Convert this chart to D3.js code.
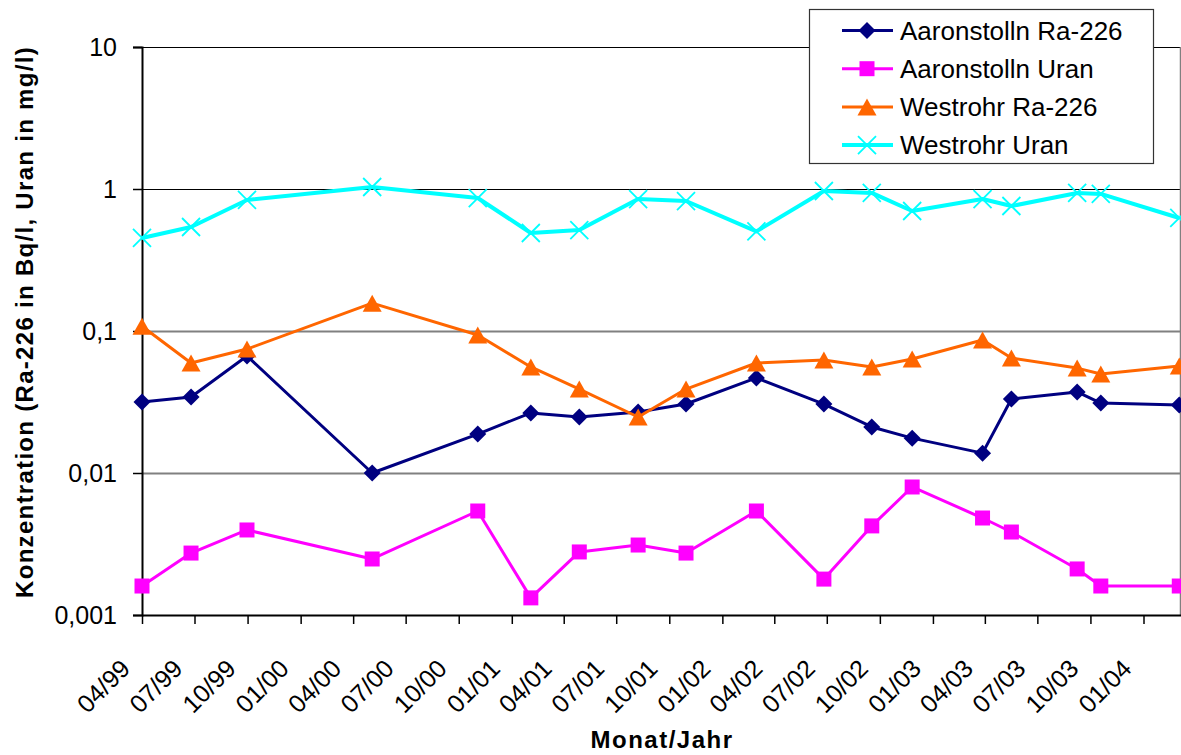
<!DOCTYPE html>
<html>
<head>
<meta charset="utf-8">
<script src="https://cdn.jsdelivr.net/npm/d3@7"></script>
<style>
  html, body { margin: 0; padding: 0; background: #fff; }
  svg { display: block; }
  text { font-family: Arial, "Liberation Sans", sans-serif; fill: #000; }
</style>
</head>
<body>
<svg id="chart" width="1181" height="755"></svg>
<script>
// ---------------- data ----------------
const sampleDates = [
  "1999-04-01", "1999-06-25", "1999-09-30", "2000-05-04", "2000-11-03", "2001-02-03",
  "2001-04-28", "2001-08-08", "2001-10-30", "2002-03-01", "2002-06-26", "2002-09-17",
  "2002-11-26", "2003-03-28", "2003-05-17", "2003-09-08", "2003-10-19", "2004-03-03"
];
const seriesNames = ["Aaronstolln Ra-226", "Aaronstolln Uran", "Westrohr Ra-226", "Westrohr Uran"];
const aaronRa = [0.0316, 0.0343, 0.0667, 0.0100, 0.0188, 0.0265, 0.0248, 0.0269, 0.0306, 0.0467,
                 0.0306, 0.0211, 0.0176, 0.0138, 0.0332, 0.0372, 0.0311, 0.0301];
const aaronU  = [0.00160, 0.00273, 0.00397, 0.00248, 0.00540, 0.00132, 0.00278, 0.00311, 0.00273,
                 0.00540, 0.00179, 0.00424, 0.00797, 0.00482, 0.00384, 0.00211, 0.00160, 0.00160];
const westRa  = [0.108, 0.0595, 0.0746, 0.157, 0.0938, 0.0558, 0.0390, 0.0248, 0.0390, 0.0595,
                 0.0625, 0.0558, 0.0635, 0.0864, 0.0646, 0.0548, 0.0498, 0.0567];
const westU   = [0.452, 0.540, 0.837, 1.033, 0.864, 0.490, 0.514, 0.850, 0.823, 0.503,
                 0.968, 0.938, 0.700, 0.850, 0.759, 0.938, 0.923, 0.625];
const yTickValues = [10, 1, 0.1, 0.01, 0.001];
const yTickLabels = ["10", "1", "0,1", "0,01", "0,001"];
const xStart = "1999-04-01";
const xEnd = "2004-03-06";
const xTitle = "Monat/Jahr";
const yTitle = "Konzentration (Ra-226 in Bq/l, Uran in mg/l)";

// ---------------- setup ----------------
const parse = d3.timeParse("%Y-%m-%d");
const dates = sampleDates.map(parse);
const svg = d3.select("#chart");

const L = 142, R = 1181, T = 47, B = 615;
const x = d3.scaleTime().domain([parse(xStart), parse(xEnd)]).range([L, R]);
const y = d3.scaleLog().domain([0.001, 10]).range([B, T]);

// gridlines
svg.append("g").selectAll("line")
  .data(yTickValues.filter(v => v > 0.001))
  .join("line")
  .attr("x1", L).attr("x2", R)
  .attr("y1", d => Math.round(y(d)) + 0.5).attr("y2", d => Math.round(y(d)) + 0.5)
  .attr("stroke", d => d >= 1 ? "#000" : "#808080")
  .attr("stroke-width", d => d >= 1 ? 1 : 2);

// right border of plot area
svg.append("line").attr("x1", R - 0.5).attr("x2", R - 0.5).attr("y1", T).attr("y2", B)
  .attr("stroke", "#808080").attr("stroke-width", 1.5);

// y axis
const yAxis = svg.append("g").attr("transform", `translate(${L},0)`)
  .call(d3.axisLeft(y).tickValues(yTickValues)
    .tickFormat((d, i) => yTickLabels[i]).tickSize(9).tickPadding(16));
yAxis.select(".domain").attr("stroke", "#000").attr("stroke-width", 2);
yAxis.selectAll(".tick line").attr("stroke", "#000").attr("stroke-width", 1.5);
yAxis.selectAll(".tick text").attr("font-size", 25)
  .style("font-family", "Arial, 'Liberation Sans', sans-serif").attr("fill", "#000");

// x axis
const xTicks = d3.timeMonth.every(3).range(parse("1999-04-01"), parse("2004-02-01"));
const xAxis = svg.append("g").attr("transform", `translate(0,${B})`)
  .call(d3.axisBottom(x).tickValues(xTicks).tickFormat(d3.timeFormat("%m/%y")).tickSize(9).tickSizeOuter(0));
xAxis.select(".domain").attr("stroke", "#000").attr("stroke-width", 2);
xAxis.selectAll(".tick line").attr("stroke", "#000").attr("stroke-width", 1.5);
xAxis.selectAll(".tick text")
  .attr("font-size", 25)
  .style("font-family", "Arial, 'Liberation Sans', sans-serif").attr("fill", "#000")
  .attr("x", 0).attr("y", 0).attr("dy", "0.35em")
  .attr("text-anchor", "end")
  .attr("transform", "translate(-17,49) rotate(-45)");

// axis titles
svg.append("text").attr("x", 662).attr("y", 748)
  .attr("text-anchor", "middle").attr("font-size", 24).attr("font-weight", "bold")
  .attr("letter-spacing", 1.5).text(xTitle);
svg.append("text").attr("transform", "translate(33,322) rotate(-90)")
  .attr("text-anchor", "middle").attr("font-size", 24).attr("font-weight", "bold")
  .attr("letter-spacing", 1.3).text(yTitle);

// ---------------- series ----------------
const markers = {
  diamond: "M0,-8.5L8.5,0L0,8.5L-8.5,0Z",
  square: "M-7.5,-7.5H7.5V7.5H-7.5Z",
  triangle: "M0,-8.5L9.5,8.5L-9.5,8.5Z",
  cross: "M-9,-9L9,9M9,-9L-9,9"
};
const series = [
  { name: seriesNames[0], values: aaronRa, color: "#000080", width: 3, marker: "diamond" },
  { name: seriesNames[1], values: aaronU, color: "#FF00FF", width: 3, marker: "square" },
  { name: seriesNames[2], values: westRa, color: "#FF6600", width: 3, marker: "triangle" },
  { name: seriesNames[3], values: westU, color: "#00FFFF", width: 4, marker: "cross" }
];

function drawMarker(g, s) {
  const p = g.append("path").attr("d", markers[s.marker]);
  if (s.marker === "cross") p.attr("fill", "none").attr("stroke", s.color).attr("stroke-width", 1.8);
  else p.attr("fill", s.color).attr("stroke", "none");
}

const line = d3.line().x(d => x(d.date)).y(d => y(d.v));
series.forEach(s => {
  const pts = s.values.map((v, i) => ({ date: dates[i], v }));
  const g = svg.append("g");
  g.append("path").datum(pts).attr("d", line)
    .attr("fill", "none").attr("stroke", s.color).attr("stroke-width", s.width)
    .attr("stroke-linejoin", "round");
  g.selectAll("g.m").data(pts).join("g").attr("class", "m")
    .attr("transform", d => `translate(${x(d.date)},${y(d.v)})`)
    .each(function () { drawMarker(d3.select(this), s); });
});

// ---------------- legend ----------------
const lg = svg.append("g");
lg.append("rect").attr("x", 809.5).attr("y", 9.5).attr("width", 344).attr("height", 154)
  .attr("fill", "#fff").attr("stroke", "#333").attr("stroke-width", 1.2);
series.forEach((s, i) => {
  const cy = 30.5 + i * 38.2;
  const row = lg.append("g").attr("transform", `translate(0,${cy})`);
  row.append("line").attr("x1", 842).attr("x2", 893).attr("y1", 0).attr("y2", 0)
    .attr("stroke", s.color).attr("stroke-width", s.width);
  drawMarker(row.append("g").attr("transform", "translate(867,0)"), s);
  row.append("text").attr("x", 900).attr("y", 0).attr("dy", "0.35em")
    .attr("font-size", 26).text(s.name);
});
</script>
</body>
</html>
